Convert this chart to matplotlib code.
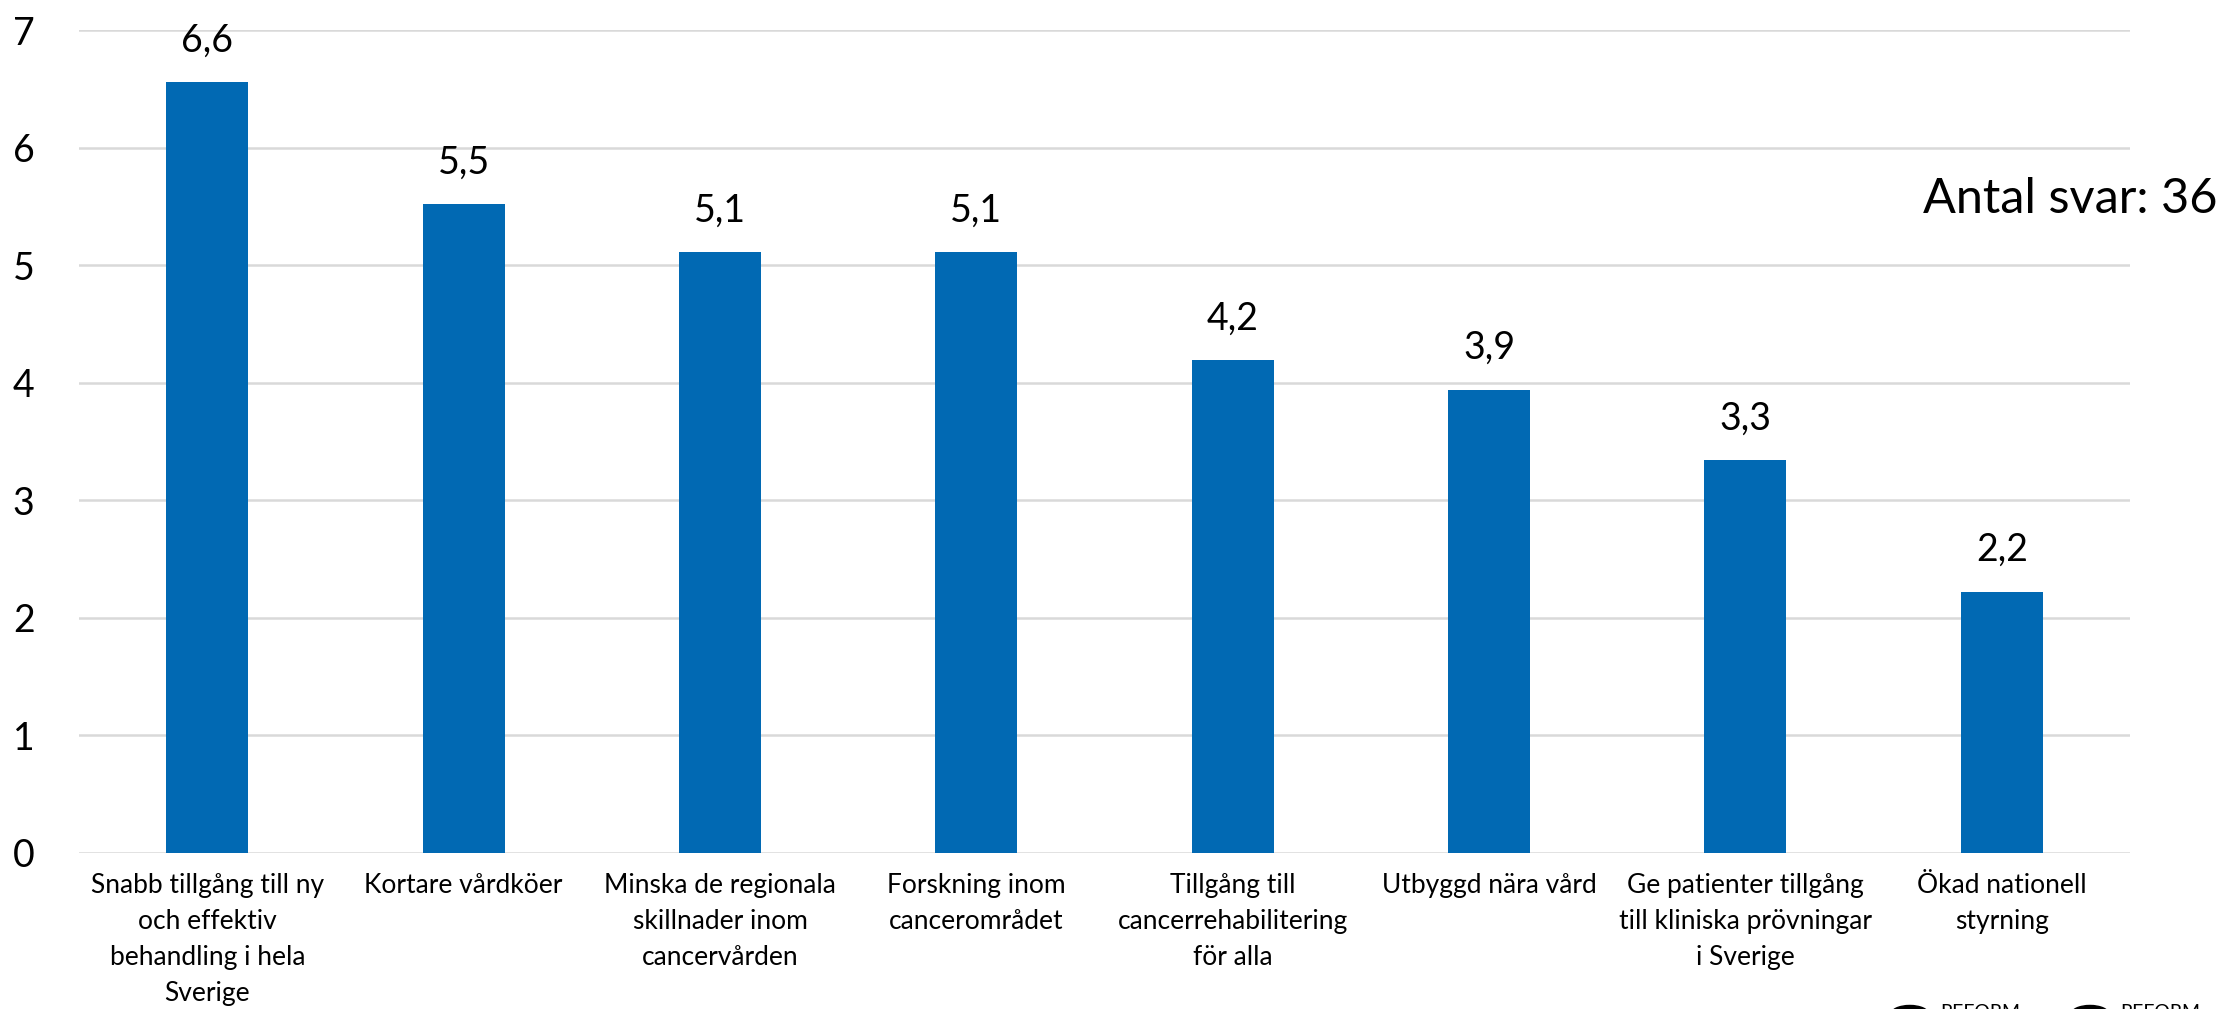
import numpy as np
import matplotlib.pyplot as plt
from matplotlib.patches import Circle

plt.rcParams['font.family'] = ['Lato', 'DejaVu Sans']

categories = [
    "Snabb tillgång till ny\noch effektiv\nbehandling i hela\nSverige",
    "Kortare vårdköer",
    "Minska de regionala\nskillnader inom\ncancervården",
    "Forskning inom\ncancerområdet",
    "Tillgång till\ncancerrehabilitering\nför alla",
    "Utbyggd nära vård",
    "Ge patienter tillgång\ntill kliniska prövningar\ni Sverige",
    "Ökad nationell\nstyrning",
]
values = [6.56, 5.52, 5.11, 5.11, 4.19, 3.94, 3.34, 2.22]
yticks = [0, 1, 2, 3, 4, 5, 6, 7]

fig = plt.figure(figsize=(22.22, 10.09), dpi=100)
ax = fig.add_axes([0.0356, 0.155, 0.923, 0.815])

x = np.arange(len(categories))
bars = ax.bar(x, values, width=0.32, color='#0169b3', zorder=3)

for xi, v in zip(x, values):
    ax.annotate(f"{v:.1f}".replace('.', ','), (xi, v), xytext=(0, 17),
                textcoords='offset points', ha='center', va='bottom', fontsize=27)

ax.set_xlim(-0.5, len(categories) - 0.5)
ax.set_ylim(0, 7)
ax.set_yticks(yticks)
ax.set_yticklabels([str(t) for t in yticks], fontsize=27)
ax.set_xticks(x)
ax.set_xticklabels(categories, fontsize=19, linespacing=1.55, va='top')
ax.tick_params(axis='both', length=0)
ax.tick_params(axis='y', pad=32)
ax.tick_params(axis='x', pad=15)
ax.grid(axis='y', color='#d9d9d9', linewidth=1.8, zorder=0)
for s in ax.spines.values():
    s.set_visible(False)

fig.text(0.998, 0.803, "Antal svar: 36", ha='right', va='center', fontsize=35)

# logos cut off at the bottom edge
for cx, tx in [(0.8595, 0.873), (0.9406, 0.954)]:
    fig.patches.append(Circle((cx, -0.005), 0.0085, transform=fig.transFigure,
                              color='black', figure=fig))
    fig.text(tx, -0.012, "REFORM", fontsize=14, va='bottom', ha='left')

fig.savefig("out.png", dpi=100)
